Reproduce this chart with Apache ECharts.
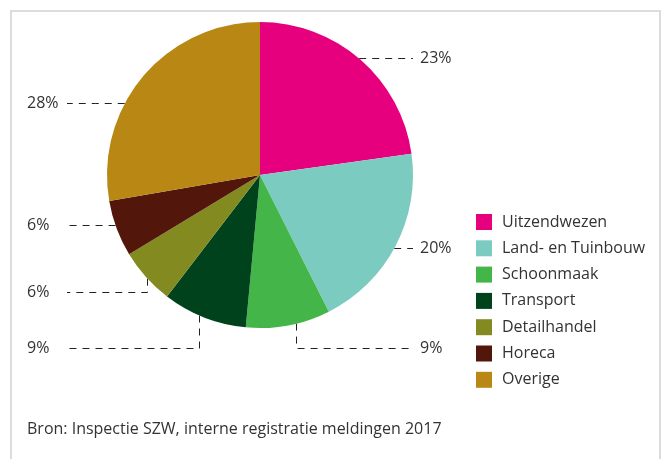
<!DOCTYPE html>
<html>
<head>
<meta charset="utf-8">
<script src="https://cdn.jsdelivr.net/npm/echarts@6/dist/echarts.min.js"></script>
<style>
  html, body { margin: 0; padding: 0; background: #fff; }
  #main { width: 662px; height: 459px; }
</style>
</head>
<body>
<div id="main"></div>
<script type="text/javascript">
    // data
    var sectoren = ['Uitzendwezen', 'Land- en Tuinbouw', 'Schoonmaak', 'Transport', 'Detailhandel', 'Horeca', 'Overige'];
    var aandeel = [23, 20, 9, 9, 6, 6, 28];
    var kleuren = ['#E6007E', '#7BCBC0', '#44B649', '#00421C', '#838A20', '#52160A', '#B88714'];
    var bron = 'Bron: Inspectie SZW, interne registratie meldingen 2017';

    // pie geometry
    var cx = 260, cy = 175, r = 153;
    // where each label sits: text row (y) and, for the bottom ones, the x of the vertical leg
    var labelSpots = [
        { side: 'right', y: 58.5 },
        { side: 'right', y: 248.5 },
        { side: 'right', y: 348.5, legX: 296.5 },
        { side: 'left', y: 348.5, legX: 199.5 },
        { side: 'left', y: 292.5, legX: 147.5 },
        { side: 'left', y: 225.5 },
        { side: 'left', y: 103.5 }
    ];
    var rightTextX = 420, rightLineEnd = 413;
    var leftTextX = 27, leftLineStart = 67;

    var pieData = [];
    for (var i = 0; i < sectoren.length; i++) {
        pieData.push({ name: sectoren[i], value: aandeel[i], itemStyle: { color: kleuren[i] } });
    }

    var myChart = echarts.init(document.getElementById('main'));
    myChart.setOption({
        animation: false,
        textStyle: { fontFamily: 'Open Sans' },
        legend: {
            orient: 'vertical',
            left: 476,
            top: 214,
            padding: 0,
            icon: 'rect',
            itemWidth: 16,
            itemHeight: 16,
            itemGap: 10.3,
            selectedMode: false,
            textStyle: { fontSize: 16, color: '#333', padding: [0, 0, 0, 5], fontFamily: 'Open Sans' },
            data: sectoren
        },
        graphic: [
            {
                type: 'rect',
                shape: { x: 11, y: 11, width: 649, height: 470 },
                style: { fill: 'none', stroke: '#dcdcdc', lineWidth: 2 },
                silent: true
            },
            {
                type: 'text',
                left: 27,
                top: 421,
                style: { text: bron, fontSize: 16, fill: '#333', fontFamily: 'Open Sans' }
            }
        ],
        series: [{
            type: 'pie',
            center: [cx, cy],
            radius: r,
            startAngle: 90,
            clockwise: true,
            avoidLabelOverlap: false,
            emphasis: { disabled: true },
            itemStyle: { borderWidth: 0 },
            label: {
                show: true,
                position: 'outside',
                formatter: '{c}%',
                fontSize: 16,
                color: '#333',
                fontFamily: 'Open Sans'
            },
            labelLine: {
                show: true,
                lineStyle: { color: '#222', width: 1, type: [7, 6] }
            },
            labelLayout: function (params) {
                var s = labelSpots[params.dataIndex];
                var endX = s.side === 'right' ? rightLineEnd : leftLineStart;
                var pts;
                if (s.legX !== undefined) {
                    var edgeY = cy + Math.sqrt(r * r - (s.legX - cx) * (s.legX - cx));
                    pts = [[s.legX, edgeY], [s.legX, s.y], [endX, s.y]];
                } else {
                    var dx = Math.sqrt(r * r - (s.y - cy) * (s.y - cy));
                    var edgeX = s.side === 'right' ? cx + dx : cx - dx;
                    pts = [[edgeX, s.y], [(edgeX + endX) / 2, s.y], [endX, s.y]];
                }
                return {
                    x: s.side === 'right' ? rightTextX : leftTextX,
                    y: s.y,
                    align: 'left',
                    verticalAlign: 'middle',
                    labelLinePoints: pts
                };
            },
            data: pieData
        }]
    });
</script>
</body>
</html>
